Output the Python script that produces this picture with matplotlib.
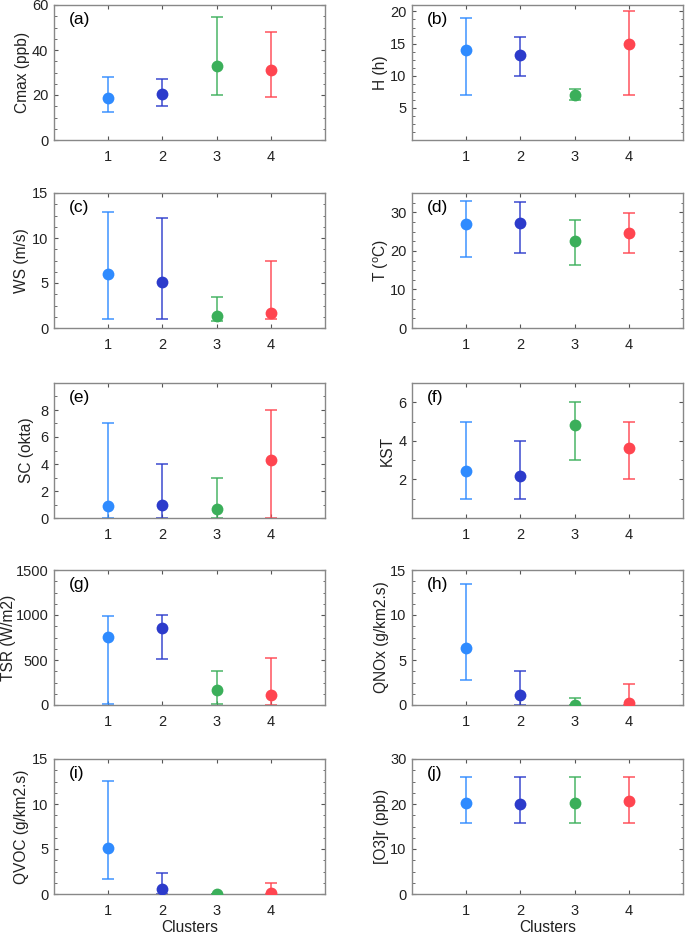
import matplotlib
matplotlib.use('Agg')
import matplotlib.pyplot as plt
from matplotlib.ticker import AutoMinorLocator

plt.rcParams['font.family'] = ['Liberation Sans', 'DejaVu Sans']
plt.rcParams['mathtext.fontset'] = 'custom'
plt.rcParams['mathtext.rm'] = 'Liberation Sans'
plt.rcParams['mathtext.it'] = 'Liberation Sans'

clusters = [1, 2, 3, 4]
colors = ['#2F8BFF', '#2C3BCB', '#3BAF5A', '#FF4550']

# per panel: mean, lower bound, upper bound for clusters 1..4
cmax_mean = [18.5, 20.3, 33.0, 31.0]
cmax_lo = [12.5, 15.0, 20.0, 19.0]
cmax_hi = [28.0, 27.3, 54.7, 48.2]

h_mean = [14.0, 13.3, 7.0, 15.0]
h_lo = [7.0, 10.0, 6.2, 7.0]
h_hi = [19.0, 16.0, 8.0, 20.0]

ws_mean = [6.0, 5.07, 1.3, 1.67]
ws_lo = [1.0, 1.0, 0.8, 1.0]
ws_hi = [12.9, 12.26, 3.4, 7.44]

t_mean = [26.9, 27.1, 22.6, 24.7]
t_lo = [18.4, 19.5, 16.4, 19.4]
t_hi = [32.9, 32.7, 27.9, 29.8]

sc_mean = [0.9, 1.0, 0.7, 4.27]
sc_lo = [0.0, 0.0, 0.0, 0.0]
sc_hi = [7.0, 4.0, 3.0, 8.0]

kst_mean = [2.43, 2.19, 4.8, 3.61]
kst_lo = [1.0, 1.0, 3.0, 2.0]
kst_hi = [5.0, 4.0, 6.0, 5.0]

tsr_mean = [759, 855, 162, 114]
tsr_lo = [10, 516, 10, 0]
tsr_hi = [988, 1000, 380, 527]

qnox_mean = [6.33, 1.1, 0.05, 0.22]
qnox_lo = [2.8, 0.05, 0.0, 0.0]
qnox_hi = [13.5, 3.8, 0.78, 2.37]

qvoc_mean = [5.07, 0.52, 0.02, 0.07]
qvoc_lo = [1.63, 0.0, 0.0, 0.0]
qvoc_hi = [12.6, 2.37, 0.05, 1.22]

o3_mean = [20.3, 20.1, 20.3, 20.6]
o3_lo = [15.7, 15.7, 15.7, 15.7]
o3_hi = [26.07, 26.07, 26.07, 26.07]

panels = [
    ('(a)', 'Cmax (ppb)', cmax_mean, cmax_lo, cmax_hi, (0, 60), [0, 20, 40, 60]),
    ('(b)', 'H (h)', h_mean, h_lo, h_hi, (0, 21), [5, 10, 15, 20]),
    ('(c)', 'WS (m/s)', ws_mean, ws_lo, ws_hi, (0, 15), [0, 5, 10, 15]),
    ('(d)', 'T ($^o$C)', t_mean, t_lo, t_hi, (0, 35), [0, 10, 20, 30]),
    ('(e)', 'SC (okta)', sc_mean, sc_lo, sc_hi, (0, 10), [0, 2, 4, 6, 8]),
    ('(f)', 'KST', kst_mean, kst_lo, kst_hi, (0, 7), [2, 4, 6]),
    ('(g)', 'TSR (W/m2)', tsr_mean, tsr_lo, tsr_hi, (0, 1500), [0, 500, 1000, 1500]),
    ('(h)', 'QNOx (g/km2.s)', qnox_mean, qnox_lo, qnox_hi, (0, 15), [0, 5, 10, 15]),
    ('(i)', 'QVOC (g/km2.s)', qvoc_mean, qvoc_lo, qvoc_hi, (0, 15), [0, 5, 10, 15]),
    ('(j)', '[O3]r (ppb)', o3_mean, o3_lo, o3_hi, (0, 30), [0, 10, 20, 30]),
]
# horizontal position of the y label centre, in axes fraction
ylabel_x = [-0.118, -0.115, -0.119, -0.112, -0.101, -0.092, -0.168, -0.111, -0.12, -0.112]

fig = plt.figure(figsize=(6.85, 9.33), dpi=100)
W, H = 685.0, 933.0
lefts = [54, 412]
width = 271
tops = [5, 193, 383, 570, 759]
height = 135

for i, (tag, ylab, m, lo, hi, ylim, yticks) in enumerate(panels):
    row, col = divmod(i, 2)
    ax = fig.add_axes([lefts[col] / W, 1 - (tops[row] + height) / H, width / W, height / H])
    for k in range(4):
        ax.errorbar(clusters[k], m[k], yerr=[[m[k] - lo[k]], [hi[k] - m[k]]],
                    fmt='none', ecolor=colors[k], alpha=0.85, elinewidth=1.2,
                    capsize=4.5, capthick=1.2, zorder=2)
        ax.plot(clusters[k], m[k], 'o', color=colors[k], markersize=8.5,
                markeredgewidth=0, zorder=3)
    ax.set_xlim(0, 5)
    ax.set_ylim(*ylim)
    ax.set_xticks(clusters)
    ax.set_yticks(yticks)
    ax.yaxis.set_minor_locator(AutoMinorLocator(4 if ylim[1] not in (7, 10) else 2))
    ax.tick_params(which='both', direction='in', top=True, right=True,
                   colors='#555555', labelcolor='#222222', labelsize=10.5)
    ax.tick_params(which='major', length=3, pad=4)
    ax.tick_params(axis='x', which='major', pad=7)
    ax.tick_params(which='minor', length=1.8)
    ax.tick_params(axis='x', which='minor', top=False, bottom=False)
    for s in ax.spines.values():
        s.set_color('#888888')
        s.set_linewidth(1.0)
    ax.set_ylabel(ylab, fontsize=11.2, color='#222222', va='center')
    ax.yaxis.set_label_coords(ylabel_x[i], 0.5)
    ax.text(0.055, 0.95, tag, transform=ax.transAxes, fontsize=12.5,
            va='top', ha='left', color='black')
    if row == 4:
        ax.set_xlabel('Clusters', fontsize=11.2, color='#222222')
        ax.xaxis.set_label_coords(0.5, -0.19)

fig.savefig('out.png', dpi=100)
